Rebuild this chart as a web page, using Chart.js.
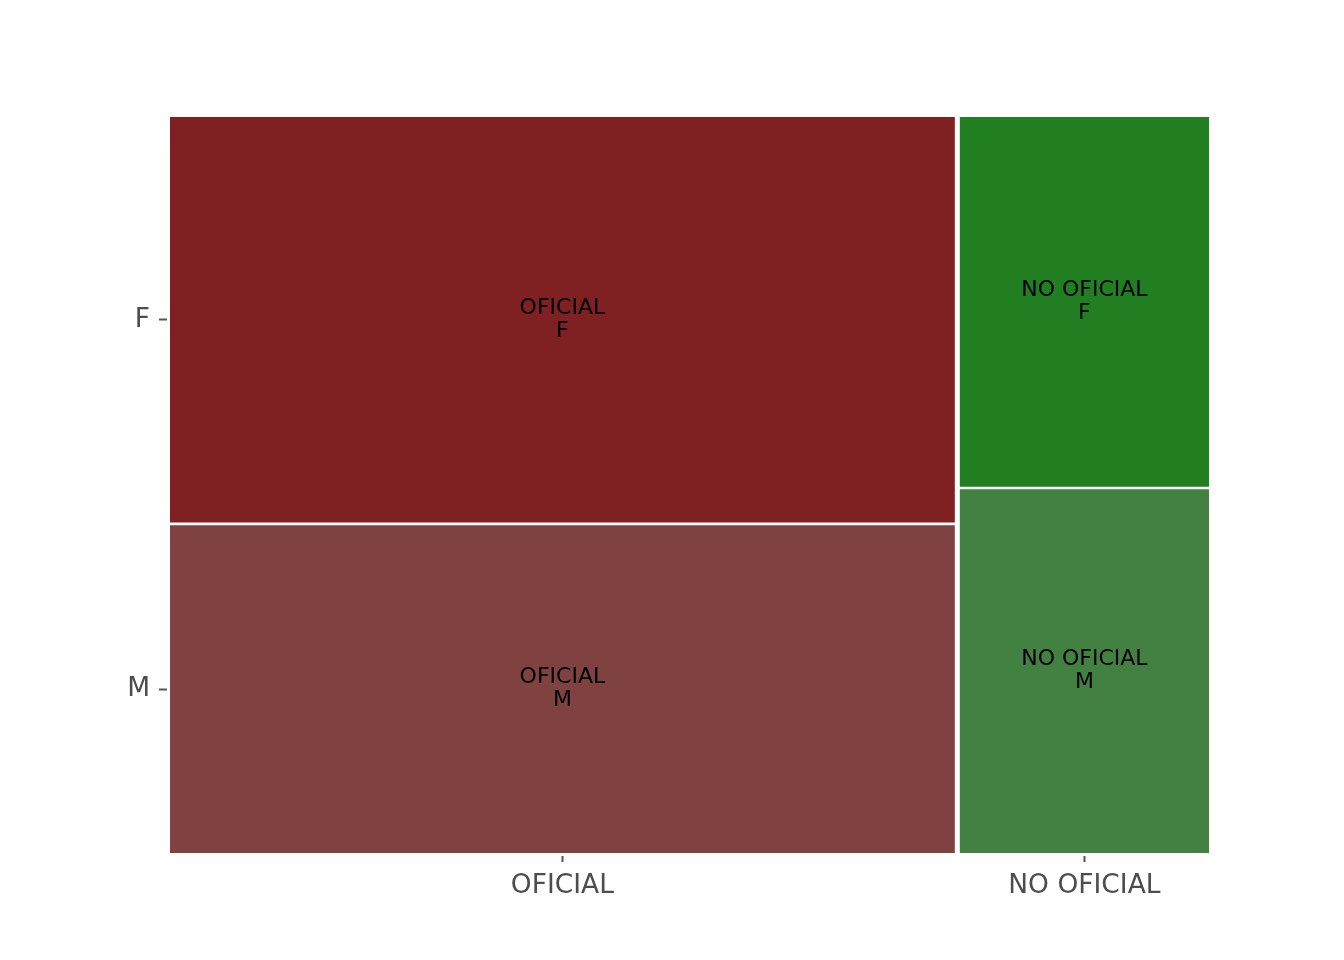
<!DOCTYPE html>
<html>
<head>
<title>Mosaic OFICIAL / NO OFICIAL</title>
<script src="https://cdn.jsdelivr.net/npm/chart.js"></script>
<style>
  body { margin: 0; background: #fff; }
  #wrap { width: 1344px; height: 960px; }
</style>
</head>
<body>
<div id="wrap"><canvas id="mosaic"></canvas></div>
<script>
// data
const categories = ['OFICIAL', 'NO OFICIAL'];
const genders = ['F', 'M'];
const colShare = [0.759, 0.241];        // width of each column
const femaleShare = [0.553, 0.504];     // share of F inside each column
const tileColors = [
  ['#7f2022', '#7f4241'],               // OFICIAL: F, M
  ['#217f21', '#428142']                // NO OFICIAL: F, M
];
const gapX = 0.0048;
const gapY = 0.0035;

// build the tiles
const tiles = [];
let x = 0;
categories.forEach((cat, i) => {
  const w = colShare[i] * (1 - gapX);
  const hM = (1 - femaleShare[i]) * (1 - gapY);
  // M at the bottom, F on top
  tiles.push({ cat, g: 'M', x0: x, x1: x + w, y0: 0, y1: hM, color: tileColors[i][1] });
  tiles.push({ cat, g: 'F', x0: x, x1: x + w, y0: hM + gapY, y1: 1, color: tileColors[i][0] });
  x += w + gapX;
});

const xTickPos = categories.map(c => {
  const t = tiles.find(r => r.cat === c);
  return (t.x0 + t.x1) / 2;
});
const yTickPos = genders.map(g => {
  const t = tiles.find(r => r.cat === categories[0] && r.g === g);
  return (t.y0 + t.y1) / 2;
});

const datasets = tiles.map(t => ({
  label: t.cat + ' ' + t.g,
  data: [
    { x: t.x0, y: t.y0 }, { x: t.x1, y: t.y0 },
    { x: t.x1, y: t.y1 }, { x: t.x0, y: t.y1 }, { x: t.x0, y: t.y0 }
  ],
  showLine: true,
  fill: 'shape',
  backgroundColor: t.color,
  borderColor: t.color,
  borderWidth: 0,
  pointRadius: 0,
  pointHoverRadius: 0,
  tension: 0
}));

// text in the middle of each tile
const tileLabels = {
  id: 'tileLabels',
  afterDatasetsDraw(chart) {
    const ctx = chart.ctx;
    const xs = chart.scales.x, ys = chart.scales.y;
    ctx.save();
    ctx.fillStyle = '#000';
    ctx.font = '22px "DejaVu Sans"';
    ctx.textAlign = 'center';
    ctx.textBaseline = 'middle';
    tiles.forEach(t => {
      const cx = xs.getPixelForValue((t.x0 + t.x1) / 2);
      const cy = ys.getPixelForValue((t.y0 + t.y1) / 2);
      ctx.fillText(t.cat, cx, cy - 12);
      ctx.fillText(t.g, cx, cy + 11);
    });
    ctx.restore();
  }
};

Chart.defaults.font.family = '"DejaVu Sans"';

new Chart(document.getElementById('mosaic'), {
  type: 'scatter',
  data: { datasets },
  plugins: [tileLabels],
  options: {
    responsive: true,
    maintainAspectRatio: false,
    animation: false,
    events: [],
    layout: { padding: { top: 117, right: 135, left: 0, bottom: 0 } },
    plugins: { legend: { display: false }, tooltip: { enabled: false } },
    scales: {
      x: {
        type: 'linear',
        min: -0.0029,
        max: 1,
        afterBuildTicks: s => { s.ticks = xTickPos.map(v => ({ value: v })); },
        afterFit: s => { s.height = 104; },
        grid: { drawOnChartArea: false, drawTicks: true, tickLength: 6, tickColor: '#555', tickWidth: 2 },
        border: { display: false },
        ticks: {
          autoSkip: false, maxRotation: 0, padding: 8,
          color: '#4d4d4d', font: { size: 26.5 },
          callback: (v, i) => categories[i]
        }
      },
      y: {
        type: 'linear',
        min: -0.0041,
        max: 1,
        afterBuildTicks: s => { s.ticks = yTickPos.map(v => ({ value: v })); },
        afterFit: s => { s.width = 167; },
        grid: { drawOnChartArea: false, drawTicks: true, tickLength: 8, tickColor: '#555', tickWidth: 2 },
        border: { display: false },
        ticks: {
          autoSkip: false, padding: 9,
          color: '#4d4d4d', font: { size: 26.5 },
          callback: (v, i) => genders[i]
        }
      }
    }
  }
});
</script>
</body>
</html>
